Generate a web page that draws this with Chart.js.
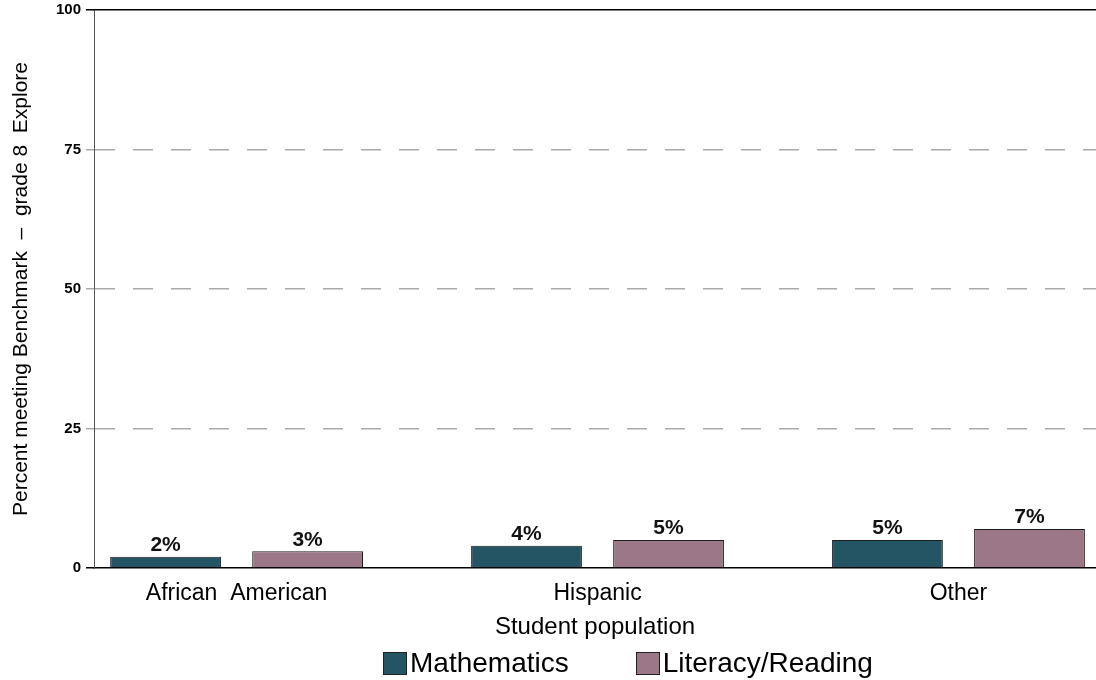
<!DOCTYPE html>
<html>
<head>
<meta charset="utf-8">
<script src="https://cdn.jsdelivr.net/npm/chart.js@4.4.1/dist/chart.umd.min.js"></script>
<style>
  body { margin: 0; background: #fff; }
  #wrap { position: relative; width: 1096px; height: 680px; font-family: "Liberation Sans", Arial, sans-serif; }
  #legend { position: absolute; left: 383px; top: 649px; display: flex; align-items: center; }
  .item { display: flex; align-items: center; margin-right: 67px; font-size: 28px; color: #000; line-height: 28px; }
  .box { width: 22px; height: 21px; border: 1px solid #222; margin-right: 3px; }
</style>
</head>
<body>
<div id="wrap">
  <canvas id="c" width="1096" height="680"></canvas>
  <div id="legend"></div>
</div>
<script>
const categories = ['African  American', 'Hispanic', 'Other'];
const mathValues = [2, 4, 5];
const readingValues = [3, 5, 7];
const seriesNames = ['Mathematics', 'Literacy/Reading'];
const yTicks = [0, 25, 50, 75, 100];

const FONT = '"Liberation Sans", Arial, sans-serif';
const MATH_COLOR = '#245565';
const READ_COLOR = '#9c7787';

// x is linear so the groups land where the reference puts them (axis is cut off at both ends)
const X_MIN = -0.395;
const X_MAX = 2.381;

const toPoints = vals => vals.map((v, i) => ({ x: i, y: v }));
const isEdge = c => c.tick && (c.tick.value === 0 || c.tick.value === 100);

// value labels above each bar
const barLabels = {
  id: 'barLabels',
  afterDatasetsDraw(chart) {
    const ctx = chart.ctx;
    ctx.save();
    ctx.font = 'bold 21px ' + FONT;
    ctx.fillStyle = '#111';
    ctx.textAlign = 'center';
    ctx.textBaseline = 'bottom';
    chart.data.datasets.forEach((ds, i) => {
      chart.getDatasetMeta(i).data.forEach((bar, j) => {
        ctx.fillText(ds.data[j].y + '%', bar.x, bar.y - 1);
      });
    });
    ctx.restore();
  }
};

Chart.defaults.font.family = FONT;
Chart.defaults.color = '#000';

const chart = new Chart(document.getElementById('c'), {
  type: 'bar',
  data: {
    datasets: [
      { label: seriesNames[0], data: toPoints(mathValues), backgroundColor: MATH_COLOR },
      { label: seriesNames[1], data: toPoints(readingValues), backgroundColor: READ_COLOR },
    ],
  },
  options: {
    responsive: false,
    animation: false,
    layout: { padding: { top: 10, right: 0, bottom: 32, left: 0 } },
    datasets: {
      bar: { categoryPercentage: 0.787, barPercentage: 0.78, borderWidth: 1, borderColor: '#1c1c1c' },
    },
    plugins: { legend: { display: false }, tooltip: { enabled: false } },
    scales: {
      x: {
        type: 'linear',
        offset: false,
        min: X_MIN,
        max: X_MAX,
        afterBuildTicks: s => { s.ticks = categories.map((_, i) => ({ value: i })); },
        afterFit: s => { s.height = 80; },
        ticks: { callback: v => categories[v], font: { size: 23 }, color: '#000', padding: 12, autoSkip: false, maxRotation: 0 },
        grid: { display: false, drawTicks: false },
        border: { color: '#000', width: 1.5 },
        title: { display: true, text: 'Student population', font: { size: 24 }, color: '#000', padding: { top: 0, bottom: 6 } },
      },
      x2: {
        type: 'linear',
        position: 'top',
        offset: false,
        min: 0,
        max: 1,
        afterFit: s => { s.height = 0; },
        grid: { display: false, drawTicks: false },
        ticks: { display: false },
        border: { color: '#000', width: 1.5 },
      },
      y: {
        min: 0,
        max: 100,
        afterBuildTicks: s => { s.ticks = yTicks.map(v => ({ value: v })); },
        afterFit: s => { s.width = 94; s.paddingTop = 0; s.paddingBottom = 0; },
        ticks: { font: { size: 15, weight: 'bold' }, color: '#000', padding: 5 },
        grid: {
          color: c => isEdge(c) ? 'rgba(0,0,0,0)' : '#aaa',
          tickColor: c => isEdge(c) ? '#000' : '#aaa',
          lineWidth: 1.5,
          tickLength: 8,
          tickBorderDash: [],
        },
        border: { color: '#555', width: 1, dash: [20, 18] },
        title: {
          display: true,
          text: 'Percent meeting Benchmark  –  grade 8  Explore',
          font: { size: 21 },
          color: '#000',
          padding: { top: 9, bottom: 0 },
        },
      },
    },
  },
  plugins: [barLabels],
});

// legend as plain html under the axis title
const legendEl = document.getElementById('legend');
chart.data.datasets.forEach(ds => {
  const item = document.createElement('div');
  item.className = 'item';
  item.innerHTML = `<span class="box" style="background:${ds.backgroundColor}"></span>${ds.label}`;
  legendEl.appendChild(item);
});
</script>
</body>
</html>
